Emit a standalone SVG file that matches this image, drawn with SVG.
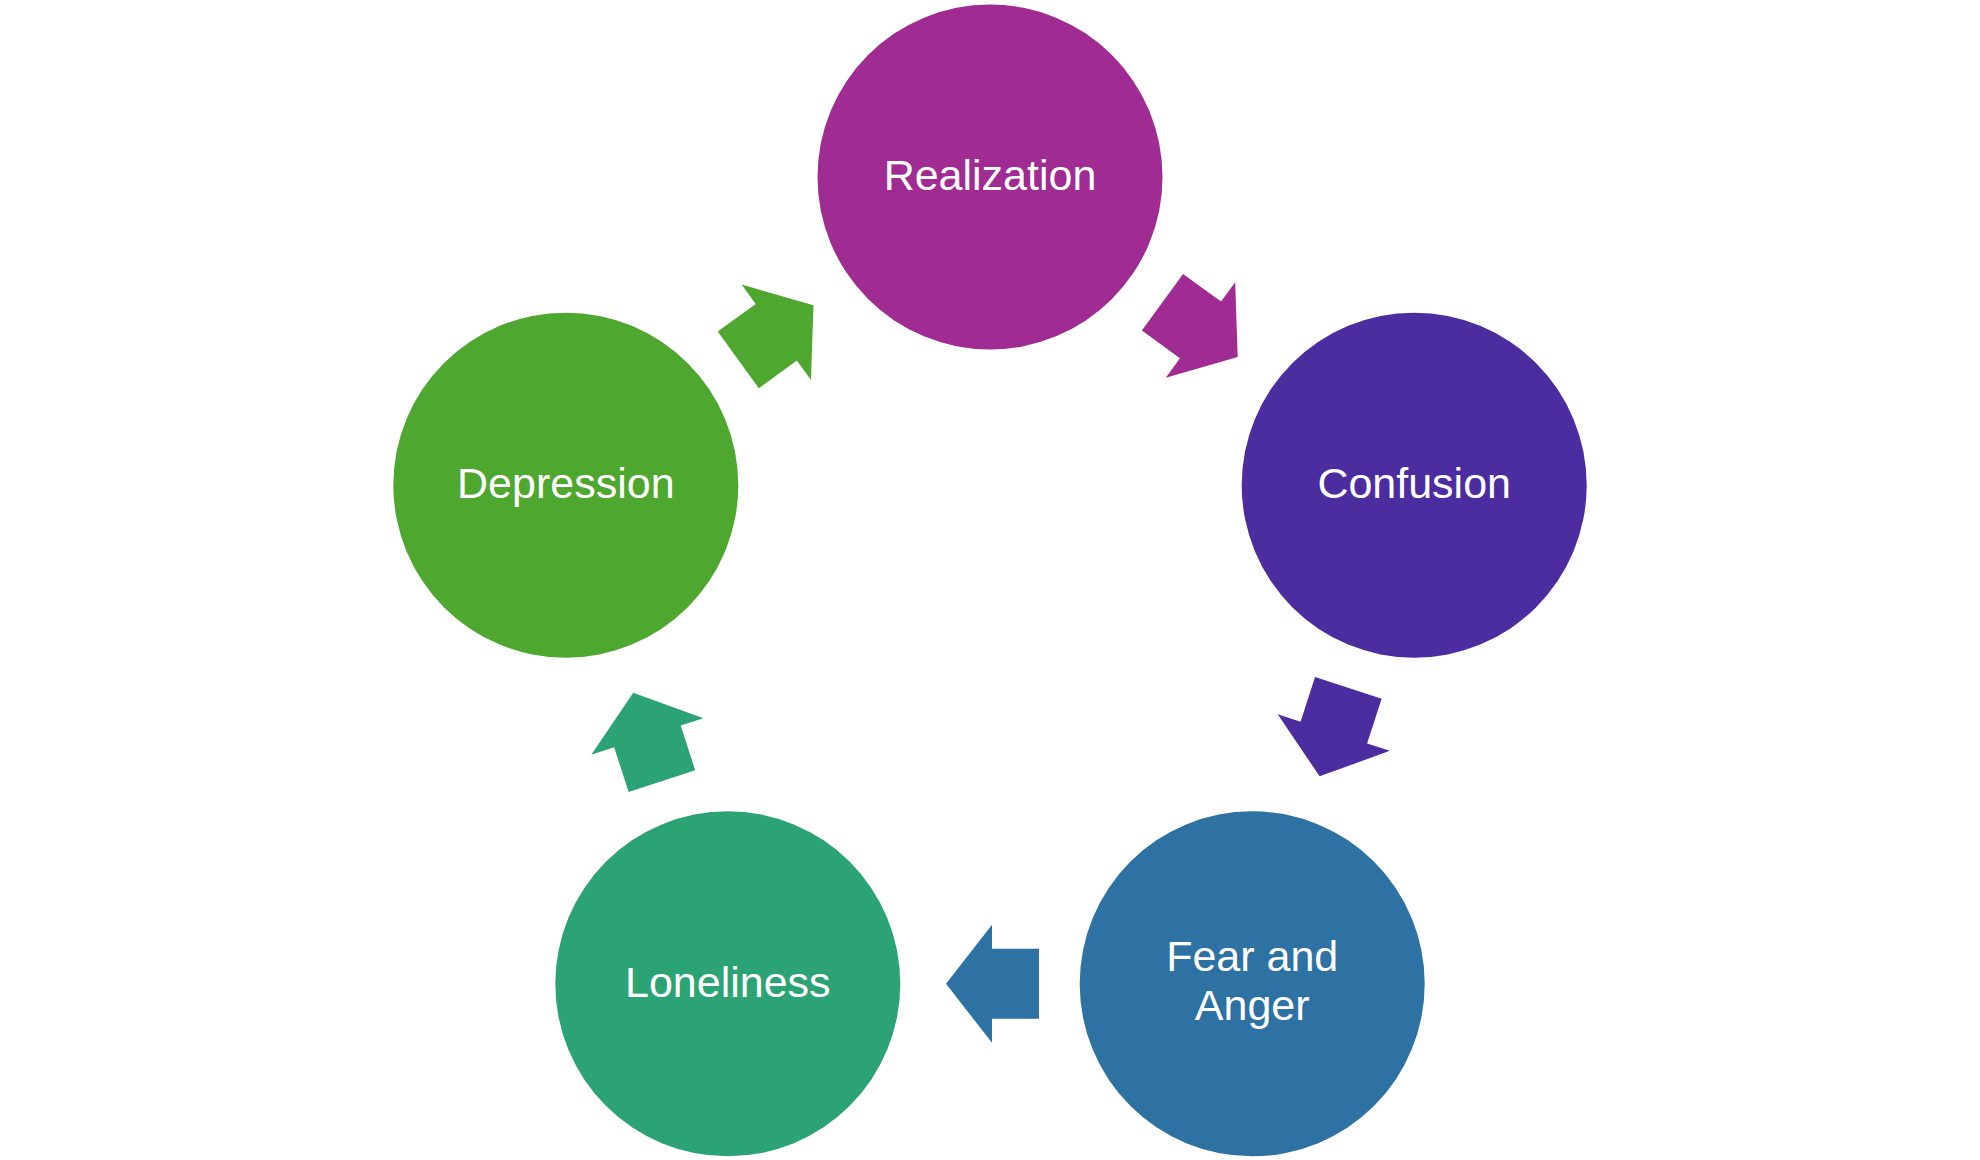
<svg xmlns="http://www.w3.org/2000/svg" xmlns:xlink="http://www.w3.org/1999/xlink" width="1980" height="1160" viewBox="0 0 1980 1160">
  <style>
    .label { font-family: "Liberation Sans", Arial, sans-serif; font-size: 43px; fill: #FFFFFF; text-anchor: middle; }
  </style>
  <defs>
    <path id="arrow" d="M-49,-35 L-2,-35 L-2,-59 L44,0 L-2,59 L-2,35 L-49,35 Z"/>
  </defs>
  <rect x="0" y="0" width="1980" height="1160" fill="#FFFFFF"/>
  <g id="connectors">
    <use xlink:href="#arrow" href="#arrow" fill="#A02B93" transform="translate(1202.1,331.1) rotate(36)"/>
    <use xlink:href="#arrow" href="#arrow" fill="#4B2DA0" transform="translate(1333.2,734.5) rotate(108)"/>
    <use xlink:href="#arrow" href="#arrow" fill="#2E71A3" transform="translate(990,983.8) rotate(180)"/>
    <use xlink:href="#arrow" href="#arrow" fill="#2CA374" transform="translate(646.8,734.5) rotate(252)"/>
    <use xlink:href="#arrow" href="#arrow" fill="#4EA72E" transform="translate(777.9,331.1) rotate(324)"/>
  </g>
  <g id="node-realization">
    <circle cx="990" cy="177" r="172.5" fill="#A02B93"/>
    <text class="label" x="990" y="190">Realization</text>
  </g>
  <g id="node-confusion">
    <circle cx="1414.2" cy="485.2" r="172.5" fill="#4B2DA0"/>
    <text class="label" x="1414.2" y="498">Confusion</text>
  </g>
  <g id="node-fear-and-anger">
    <circle cx="1252.2" cy="983.8" r="172.5" fill="#2E71A3"/>
    <text class="label" x="1252.2" y="971">Fear and</text>
    <text class="label" x="1252.2" y="1020">Anger</text>
  </g>
  <g id="node-loneliness">
    <circle cx="727.8" cy="983.8" r="172.5" fill="#2CA374"/>
    <text class="label" x="727.8" y="997">Loneliness</text>
  </g>
  <g id="node-depression">
    <circle cx="565.8" cy="485.2" r="172.5" fill="#4EA72E"/>
    <text class="label" x="565.8" y="498">Depression</text>
  </g>
</svg>
